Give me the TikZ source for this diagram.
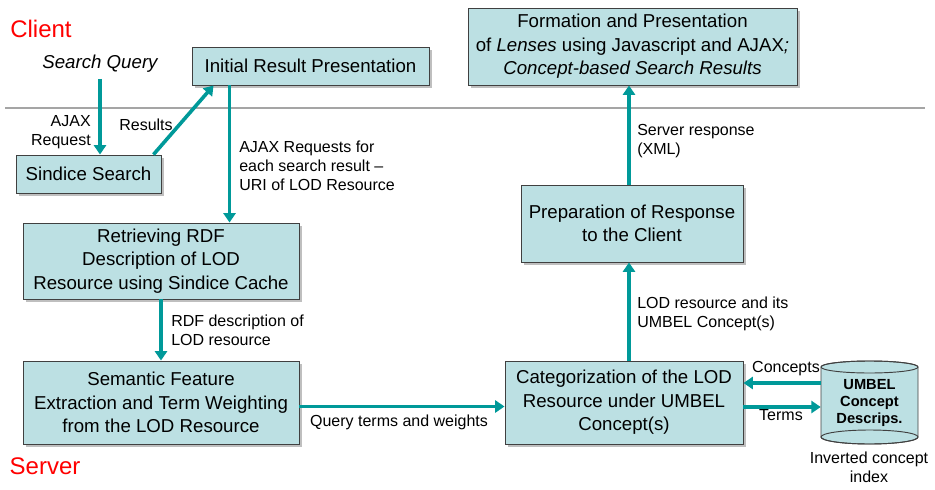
\documentclass[tikz,border=0pt]{standalone}
\usepackage{fontspec}
\setmainfont{Liberation Sans}
\usetikzlibrary{arrows.meta,shadows,calc}
\definecolor{boxcyan}{RGB}{188,224,227}
\definecolor{flowteal}{RGB}{0,153,153}
\definecolor{sepgray}{RGB}{165,165,165}

\begin{document}
\begin{tikzpicture}[
		x=0.75pt, y=-0.75pt,
		procBox/.style={draw=black!75, line width=0.7pt, fill=boxcyan, align=center,
			font=\fontsize{14}{17.6}\selectfont, inner sep=0pt,
			drop shadow={shadow xshift=2pt, shadow yshift=-2pt, fill=black, opacity=0.25}},
		flow/.style={line width=2.7pt, draw=flowteal, -{Triangle[width=9pt,length=7pt]}},
		flowLabel/.style={inner sep=0pt, align=left, font=\fontsize{12}{14.3}\selectfont},
		side/.style={text=red, font=\fontsize{18}{20}\selectfont, inner sep=0pt},
		]
		\useasboundingbox (0,0) rectangle (935,489);
		
		% client / server split
		\node[side] (client) at (41,29) {Client};
		\node[side] (server) at (45,466) {Server};
		\draw[sepgray, line width=1pt] (5,108) coordinate (sepl) -- (925,108) coordinate (sepr);
		
		% boxes
		\node[procBox, minimum width=177.75pt, minimum height=28.5pt] (init) at (310.5,66) {Initial Result Presentation};
		\node[procBox, minimum width=108.75pt, minimum height=28.5pt] (sindice) at (88.5,174) {Sindice Search};
		\node[procBox, minimum width=207pt, minimum height=57pt] (retr) at (161,261)
		{Retrieving RDF\\Description of LOD\\Resource using Sindice Cache};
		\node[procBox, minimum width=207pt, minimum height=62.25pt] (sem) at (161,402.5)
		{Semantic Feature\\Extraction and Term Weighting\\from the LOD Resource};
		\node[procBox, minimum width=178.5pt, minimum height=62.25pt] (cat) at (624,402.5)
		{Categorization of the LOD\\Resource under UMBEL\\Concept(s)};
		\node[procBox, minimum width=166.5pt, minimum height=57.75pt] (prep) at (632,223.5)
		{Preparation of Response\\to the Client};
		\node[procBox, minimum width=246.75pt, minimum height=57.75pt] (form) at (632.5,46.5)
		{Formation and Presentation\\of \textit{Lenses} using Javascript and AJAX\textit{;}\\\textit{Concept-based Search Results}};
		
		% concept index
		\draw[draw=black!75, line width=0.7pt, fill=boxcyan]
		(821,367) -- (821,437) arc[start angle=180, end angle=0, x radius=48.5, y radius=7]
		-- (918,367) arc[start angle=0, end angle=-180, x radius=48.5, y radius=6] -- cycle;
		\draw[draw=black!75, line width=0.7pt] (869.5,367) ellipse[x radius=48.5, y radius=6];
		\draw[draw=black!75, line width=0.7pt] (869.5,437) ellipse[x radius=48.5, y radius=7];
		\node[inner sep=0pt, minimum width=72.75pt, minimum height=61.5pt, align=center,
		font=\fontsize{11}{12.75}\bfseries] (umbel) at (869.5,403) {UMBEL\\Concept\\Descrips.};
		\node[inner sep=0pt, align=center, font=\fontsize{12}{14.3}\selectfont] (invidx) at (869,467)
		{Inverted concept\\index};
		
		% query
		\node[inner sep=0pt, font=\fontsize{14}{16}\itshape] (query) at (100,64) {Search Query};
		
		% connectors
		\draw[flow] ($(query.south)+(0,6)$) -- (query.south |- sindice.north);
		\draw[flow] ($(sindice.north east)+(-8,0)$) -- ($(init.south west)+(22,0)$);
		\coordinate (ajx) at ($(init.south west)+(38,0)$);
		\draw[flow] (ajx) -- (ajx |- retr.north);
		\draw[flow] (retr.south) -- (sem.north);
		\draw[flow] ($(sem.east)+(0,4)$) -- ($(cat.west)+(0,4)$);
		\draw[flow] ($(umbel.west)+(0,-20)$) -- ($(cat.east)+(0,-19.5)$);
		\draw[flow] ($(cat.east)+(0,4.5)$) -- ($(umbel.west)+(0,4)$);
		\coordinate (upc) at ($(cat.north)+(5,0)$);
		\draw[flow] (upc) -- (upc |- prep.south);
		\coordinate (upp) at ($(prep.north)+(-3,0)$);
		\draw[flow] (upp) -- (upp |- form.south);
		
		% connector labels
		\node[flowLabel, anchor=east, align=right] (lajax) at (91,132) {AJAX\\Request};
		\node[flowLabel] (lres) at (146,125) {Results};
		\node[flowLabel, anchor=west] (lreq) at (239,166) {AJAX Requests for\\each search result --\\URI of LOD Resource};
		\node[flowLabel, anchor=west] (lrdf) at (171,330) {RDF description of\\LOD resource};
		\node[flowLabel] (lqry) at (399,422) {Query terms and weights};
		\node[flowLabel] (lcon) at (786,369) {Concepts};
		\node[flowLabel] (lterm) at (781,415) {Terms};
		\node[flowLabel, anchor=west] (llod) at (637,314) {LOD resource and its\\UMBEL Concept(s)};
		\node[flowLabel, anchor=west] (lsrv) at (637,141) {Server response\\(XML)};
	\end{tikzpicture}
\end{document}
